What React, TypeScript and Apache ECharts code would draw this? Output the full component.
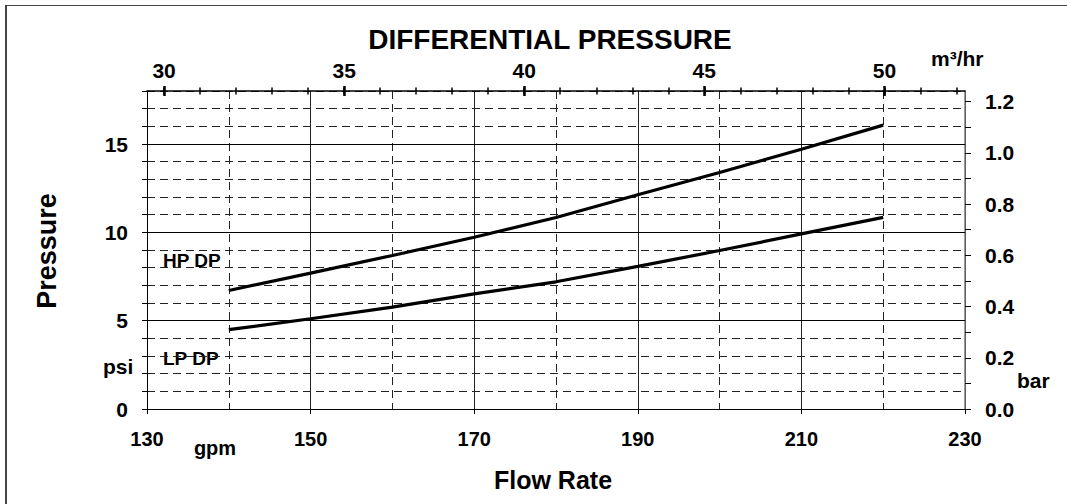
import React, { useEffect, useRef } from 'react';
import * as echarts from 'echarts';

// ---- data ----
const FLOW_GPM = [140, 150, 160, 170, 180, 190, 200, 210, 220];
const HP_DP_PSI = [6.71, 7.69, 8.69, 9.72, 10.84, 12.13, 13.39, 14.7, 16.07];
const LP_DP_PSI = [4.49, 5.11, 5.77, 6.52, 7.2, 8.07, 8.97, 9.91, 10.85];

const GPM_RANGE = [130, 230];
const PSI_RANGE = [0, 18];
const SOLID_PSI = [5, 10, 15];
const M3H_RANGE = [30, 52];
const M3H_MAJOR_RANGE = [30, 50];
const GPM_PER_M3H = 4.40287;
const PSI_PER_BAR = 14.5038;

const TITLE = 'DIFFERENTIAL PRESSURE';

export default function App() {
  const ref = useRef<HTMLDivElement>(null);
  useEffect(() => {
    document.body.style.margin = '0';
    const chart = echarts.init(ref.current!, null, { renderer: 'svg' });
    const font = '"Liberation Sans", Arial, sans-serif';
    const gL = 147, gR = 965, gT = 91, gB = 409;
    const pxPerGpm = (gR - gL) / (GPM_RANGE[1] - GPM_RANGE[0]);
    const xOfM3h = (m: number) => gL + (m * GPM_PER_M3H - GPM_RANGE[0]) * pxPerGpm;
    const lbl = { fontFamily: font, fontWeight: 'bold' as const, color: '#000' };
    const dash = [8, 5];

    const topTick = (grid: number, range: number[], interval: number, len: number, w: number, labels: boolean, margin: number) => ({
      type: 'value',
      gridIndex: grid,
      position: 'top',
      min: range[0],
      max: range[1],
      interval,
      axisLine: { show: false, onZero: false },
      axisTick: { show: true, inside: false, length: len, lineStyle: { color: '#000', width: w } },
      axisLabel: {
        show: labels,
        ...lbl,
        fontSize: 21,
        margin,
        formatter: (v: number) => (Math.round(v) % 5 === 0 ? String(v) : ''),
      },
      splitLine: { show: false },
    });

    chart.setOption({
      animation: false,
      backgroundColor: '#fff',
      grid: [
        { left: gL, top: gT, width: gR - gL, height: gB - gT },
        { left: xOfM3h(M3H_RANGE[0]), top: gT + 3.5, width: xOfM3h(M3H_RANGE[1]) - xOfM3h(M3H_RANGE[0]), height: 10 },
        { left: xOfM3h(M3H_MAJOR_RANGE[0]), top: gT + 5, width: xOfM3h(M3H_MAJOR_RANGE[1]) - xOfM3h(M3H_MAJOR_RANGE[0]), height: 10 },
      ],
      xAxis: [
        {
          type: 'value',
          gridIndex: 0,
          position: 'bottom',
          min: GPM_RANGE[0],
          max: GPM_RANGE[1],
          interval: 20,
          axisLine: { show: true, onZero: false, lineStyle: { color: '#000', width: 1 } },
          axisTick: { show: true, length: 5, lineStyle: { color: '#000' } },
          axisLabel: { ...lbl, fontSize: 20, margin: 20 },
          splitLine: { show: true, lineStyle: { color: '#222', width: 1 } },
          minorTick: { show: false, splitNumber: 2 },
          minorSplitLine: { show: true, lineStyle: { color: '#222', width: 1, type: dash } },
        },
        {
          type: 'value',
          gridIndex: 0,
          position: 'top',
          min: GPM_RANGE[0],
          max: GPM_RANGE[1],
          axisLine: { show: true, onZero: false, lineStyle: { color: '#000', width: 1.5 } },
          axisTick: { show: false },
          axisLabel: { show: false },
          splitLine: { show: false },
        },
        topTick(1, M3H_RANGE, 1, 7, 1.5, false, 0),
        topTick(2, M3H_MAJOR_RANGE, 5, 10, 2.5, true, 15),
      ],
      yAxis: [
        {
          type: 'value',
          gridIndex: 0,
          position: 'left',
          min: PSI_RANGE[0],
          max: PSI_RANGE[1],
          interval: 1,
          axisLine: { show: true, onZero: false, lineStyle: { color: '#000', width: 1 } },
          axisTick: { show: true, length: 5, lineStyle: { color: '#000' } },
          axisLabel: {
            ...lbl,
            fontSize: 21,
            margin: 19,
            formatter: (v: number) => (Math.round(v) % 5 === 0 ? String(v) : ''),
          },
          splitLine: { show: true, lineStyle: { color: '#222', width: 1, type: dash } },
        },
        {
          type: 'value',
          gridIndex: 0,
          position: 'right',
          min: 0,
          max: PSI_RANGE[1] / PSI_PER_BAR,
          interval: 0.1,
          axisLine: { show: true, onZero: false, lineStyle: { color: '#777', width: 1.5 } },
          axisTick: { show: true, length: 6, lineStyle: { color: '#000' } },
          axisLabel: {
            ...lbl,
            fontSize: 21,
            margin: 20,
            showMaxLabel: false,
            formatter: (v: number) =>
              Math.abs(v * 5 - Math.round(v * 5)) < 1e-6 ? v.toFixed(1) : '',
          },
          splitLine: { show: false },
        },
        { type: 'value', gridIndex: 1, show: false, min: 0, max: 1 },
        { type: 'value', gridIndex: 2, show: false, min: 0, max: 1 },
      ],
      series: [
        {
          name: 'HP DP',
          type: 'line',
          xAxisIndex: 0,
          yAxisIndex: 0,
          data: FLOW_GPM.map((g, i) => [g, HP_DP_PSI[i]]),
          showSymbol: false,
          lineStyle: { color: '#000', width: 3.2 },
          markLine: {
            silent: true,
            symbol: ['none', 'none'],
            label: { show: false },
            lineStyle: { color: '#000', type: 'solid', width: 1 },
            data: SOLID_PSI.map((v) => ({ yAxis: v })),
          },
        },
        {
          name: 'LP DP',
          type: 'line',
          xAxisIndex: 0,
          yAxisIndex: 0,
          data: FLOW_GPM.map((g, i) => [g, LP_DP_PSI[i]]),
          showSymbol: false,
          lineStyle: { color: '#000', width: 3.2 },
        },
      ],
      graphic: [
        { type: 'line', shape: { x1: 6, y1: 5, x2: 6, y2: 504 }, style: { stroke: '#444', lineWidth: 2 } },
        { type: 'line', shape: { x1: 5, y1: 5.5, x2: 1067, y2: 5.5 }, style: { stroke: '#444', lineWidth: 1 } },
        { type: 'text', x: 550, y: 39, style: { text: TITLE, ...lbl, fill: '#000', fontSize: 28, textAlign: 'center', textVerticalAlign: 'middle' } },
        { type: 'text', x: 931, y: 58, style: { text: 'm³/hr', ...lbl, fill: '#000', fontSize: 21, textAlign: 'left', textVerticalAlign: 'middle' } },
        { type: 'text', x: 163, y: 260, style: { text: 'HP DP', ...lbl, fill: '#000', fontSize: 19, textAlign: 'left', textVerticalAlign: 'middle' } },
        { type: 'text', x: 163, y: 358, style: { text: 'LP DP', ...lbl, fill: '#000', fontSize: 19, textAlign: 'left', textVerticalAlign: 'middle' } },
        { type: 'text', x: 103, y: 366, style: { text: 'psi', ...lbl, fill: '#000', fontSize: 21, textAlign: 'left', textVerticalAlign: 'middle' } },
        { type: 'text', x: 215, y: 448, style: { text: 'gpm', ...lbl, fill: '#000', fontSize: 20, textAlign: 'center', textVerticalAlign: 'middle' } },
        { type: 'text', x: 1017, y: 380, style: { text: 'bar', ...lbl, fill: '#000', fontSize: 21, textAlign: 'left', textVerticalAlign: 'middle' } },
        { type: 'text', x: 553, y: 480, style: { text: 'Flow Rate', ...lbl, fill: '#000', fontSize: 25, textAlign: 'center', textVerticalAlign: 'middle' } },
        { type: 'text', x: 47, y: 251, rotation: Math.PI / 2, style: { text: 'Pressure', ...lbl, fill: '#000', fontSize: 27, textAlign: 'center', textVerticalAlign: 'middle' } },
      ],
    });
    return () => chart.dispose();
  }, []);
  return <div ref={ref} style={{ width: 1067, height: 504 }} />;
}
